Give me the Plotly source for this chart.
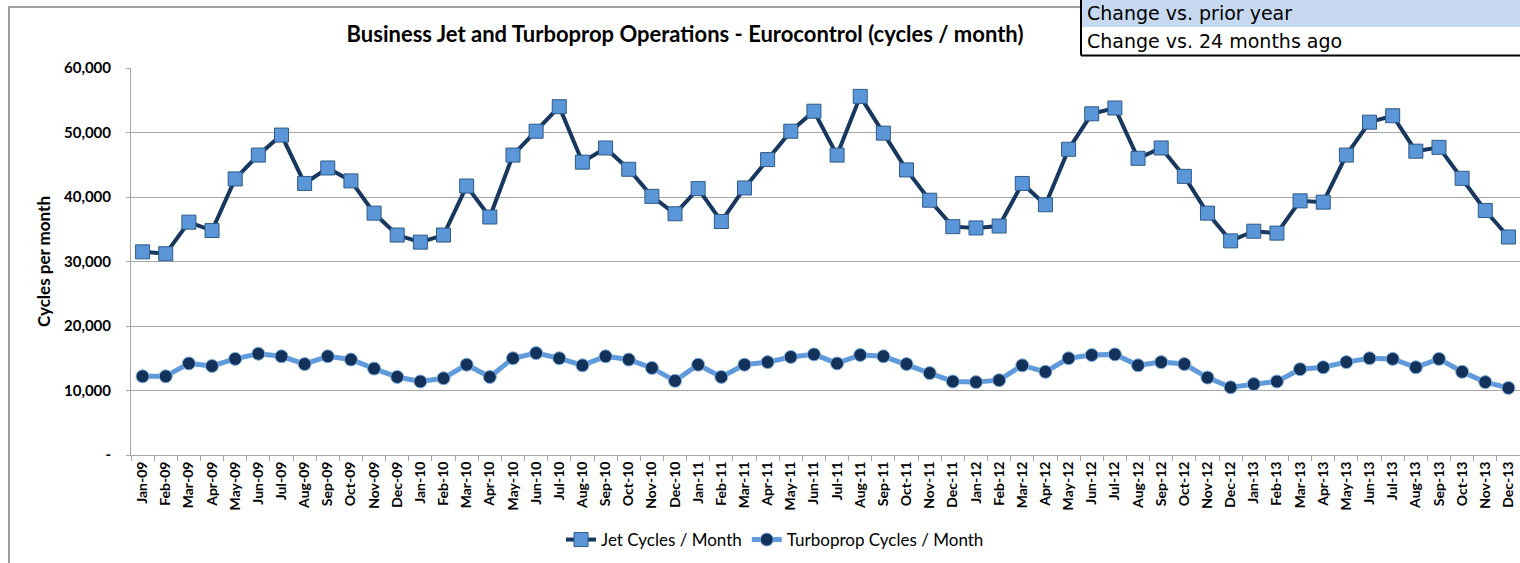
"""Business jet / turboprop cycles per month - Eurocontrol"""
import plotly.graph_objects as go

MONTHS = [f"{m}-{y:02d}" for y in range(9, 14)
          for m in ["Jan", "Feb", "Mar", "Apr", "May", "Jun",
                    "Jul", "Aug", "Sep", "Oct", "Nov", "Dec"]]

JET_CYCLES = [
    31500, 31200, 36100, 34800, 42800, 46500, 49600, 42100, 44500, 42500, 37500, 34100,
    33000, 34100, 41700, 36900, 46500, 50200, 54000, 45400, 47600, 44300, 40100, 37400,
    41300, 36200, 41400, 45800, 50200, 53300, 46500, 55600, 49900, 44200, 39500, 35400,
    35200, 35500, 42100, 38800, 47400, 52900, 53800, 46000, 47600, 43200, 37500, 33200,
    34700, 34400, 39400, 39200, 46500, 51600, 52600, 47100, 47700, 42900, 37900, 33800,
]

TURBOPROP_CYCLES = [
    12200, 12200, 14200, 13800, 14900, 15700, 15300, 14100, 15300, 14800, 13400, 12100,
    11400, 11900, 14000, 12100, 15000, 15800, 15000, 13900, 15300, 14800, 13500, 11500,
    14000, 12100, 14000, 14400, 15200, 15600, 14200, 15500, 15300, 14100, 12700, 11400,
    11300, 11600, 13900, 12900, 15000, 15500, 15600, 13900, 14400, 14100, 12000, 10500,
    11000, 11400, 13300, 13600, 14400, 15000, 14900, 13600, 14900, 12900, 11300, 10400,
]

Y_TICKS = [0, 10000, 20000, 30000, 40000, 50000, 60000]
Y_TICK_TEXT = ["-", "10,000", "20,000", "30,000", "40,000", "50,000", "60,000"]

FONT = "Lato, Open Sans, sans-serif"
W, H = 1520, 563
L, R, T, B = 131, 0, 68, 108
PW, PH = W - L - R, H - T - B


def px_x(px):
    return (px - L) / PW


def px_y(py):
    return (H - B - py) / PH


fig = go.Figure()
fig.add_trace(go.Scatter(
    x=MONTHS, y=JET_CYCLES, mode="lines+markers", name="Jet Cycles / Month",
    line=dict(color="#17375e", width=4),
    marker=dict(symbol="square", size=14, color="#5b97d8",
                line=dict(color="#2d5a88", width=1)),
))
fig.add_trace(go.Scatter(
    x=MONTHS, y=TURBOPROP_CYCLES, mode="lines+markers", name="Turboprop Cycles / Month",
    line=dict(color="#5f9bdc", width=5),
    marker=dict(symbol="circle", size=13, color="#13325a",
                line=dict(color="#7fb0e6", width=1)),
))

# outer chart frame
fig.add_shape(type="rect", xref="paper", yref="paper",
              x0=px_x(9), x1=px_x(1530), y0=px_y(580), y1=px_y(7),
              line=dict(color="#a0a0a0", width=2), fillcolor="rgba(0,0,0,0)", layer="below")
# cell box top right
fig.add_shape(type="rect", xref="paper", yref="paper",
              x0=px_x(1081), x1=px_x(1530), y0=px_y(27), y1=px_y(-5),
              line=dict(width=0), fillcolor="#c6d9f1")
fig.add_shape(type="rect", xref="paper", yref="paper",
              x0=px_x(1081), x1=px_x(1530), y0=px_y(27), y1=px_y(55),
              line=dict(width=0), fillcolor="white")
fig.add_shape(type="line", xref="paper", yref="paper",
              x0=px_x(1081), x1=px_x(1081), y0=px_y(-5), y1=px_y(55.5),
              line=dict(color="black", width=2))
fig.add_shape(type="line", xref="paper", yref="paper",
              x0=px_x(1081), x1=px_x(1530), y0=px_y(55.5), y1=px_y(55.5),
              line=dict(color="black", width=2))

for text, py in [("Change vs. prior year", 13), ("Change vs. 24 months ago", 41)]:
    fig.add_annotation(text=text, xref="paper", yref="paper", x=px_x(1085), y=px_y(py),
                       xanchor="left", yanchor="middle", showarrow=False,
                       font=dict(family="DejaVu Sans", size=19, color="black"))

fig.add_annotation(text="<b>Cycles per month</b>", xref="paper", yref="paper",
                   x=px_x(43), y=px_y(262), textangle=-90, showarrow=False,
                   xanchor="center", yanchor="middle",
                   font=dict(family=FONT, size=17, color="black"))

fig.update_layout(
    width=W, height=H,
    margin=dict(l=L, r=R, t=T, b=B),
    paper_bgcolor="white", plot_bgcolor="white",
    title=dict(text="<b>Business Jet and Turboprop Operations - Eurocontrol (cycles / month)</b>",
               x=685 / W, xanchor="center", y=1 - 34 / H, yanchor="middle",
               font=dict(family=FONT, size=22, color="black")),
    font=dict(family=FONT, color="black"),
    showlegend=True,
    legend=dict(orientation="h", x=px_x(775), xanchor="center", y=px_y(540), yanchor="middle",
                font=dict(family=FONT, size=17, color="black"),
                itemwidth=30, tracegroupgap=0, bgcolor="rgba(0,0,0,0)"),
    xaxis=dict(
        type="category", range=[-0.5, len(MONTHS) - 0.5],
        tickangle=-90, tickfont=dict(family=FONT, size=14, color="black", weight="bold"),
        showline=True, linecolor="#a6a6a6", linewidth=1,
        ticks="outside", tickson="boundaries", ticklen=5, tickcolor="#a6a6a6",
        showgrid=False, zeroline=False,
    ),
    yaxis=dict(
        range=[0, 60000], tickvals=Y_TICKS, ticktext=Y_TICK_TEXT,
        tickfont=dict(family=FONT, size=15, color="black", weight="bold"),
        showline=True, linecolor="#a6a6a6", linewidth=1,
        ticks="outside", ticklen=4, tickcolor="#a6a6a6", ticklabelstandoff=12,
        showgrid=True, gridcolor="#a6a6a6", gridwidth=1, zeroline=False,
    ),
)

# page body has a default margin; remove it so the figure fills the window
fig.write_html("out.html", config={"displayModeBar": False},
               post_script="document.body.style.margin='0';")
